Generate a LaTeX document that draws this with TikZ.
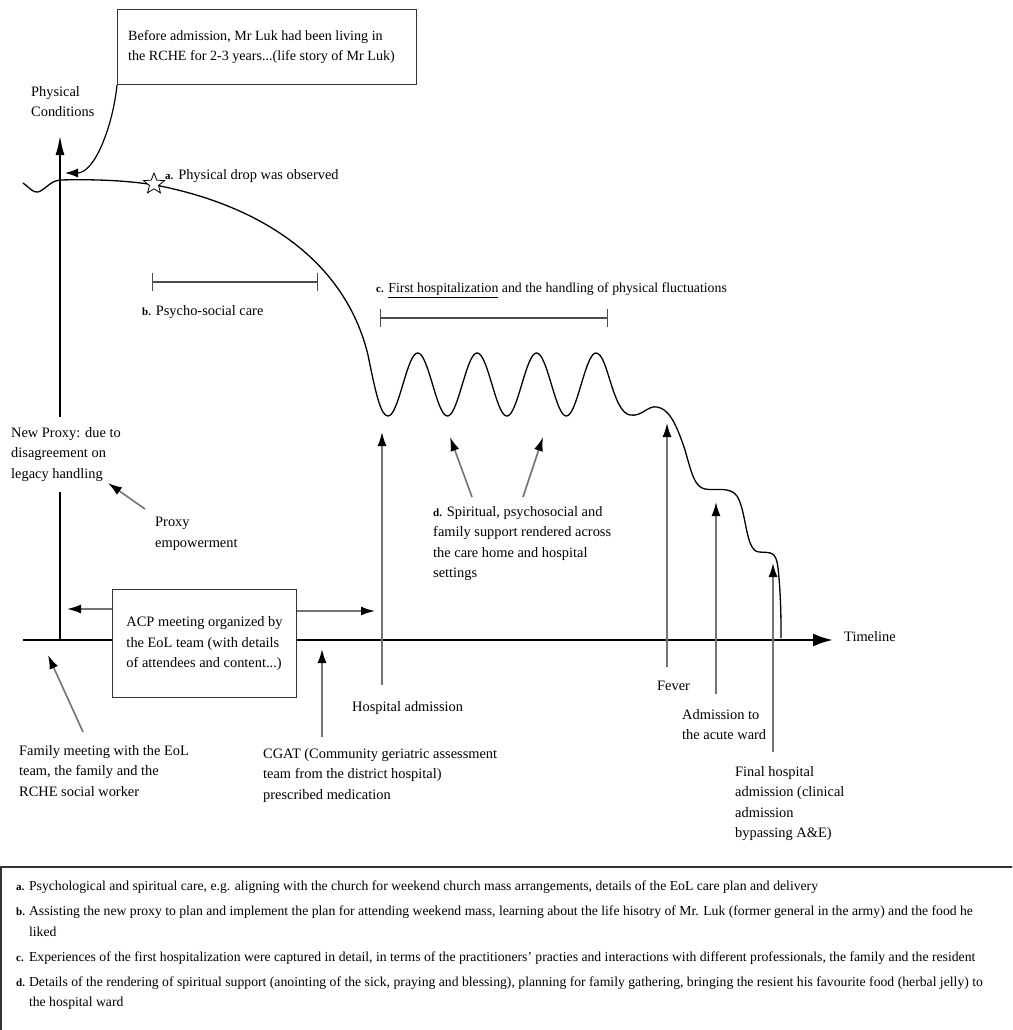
\documentclass[tikz,border=0pt]{standalone}
\usepackage{fontspec}
\setmainfont{Liberation Serif}
\usetikzlibrary{arrows.meta,shapes.geometric,calc}
\newcommand\itemlet[1]{{\fontsize{11}{11}\selectfont\bfseries #1}}
\begin{document}
\begin{tikzpicture}[x=1pt,y=-1pt,
  txt/.style={font=\fontsize{14.4}{20.5}\selectfont, align=left, anchor=north west, inner sep=0pt},
  box/.style={draw=black!80, line width=1.1pt, fill=white, rectangle, align=left, font=\fontsize{14.4}{20.5}\selectfont, anchor=north west, inner sep=0pt},
  axisline/.style={line width=2.4pt, black},
  curveline/.style={line width=1.3pt, black},
  garrow/.style={line width=1.6pt, draw=black!55, -{Latex[length=14pt,width=9pt,color=black]}},
  bracketline/.style={line width=1.4pt, draw=black!70, {Bar[width=18pt]}-{Bar[width=18pt]}},
]
\useasboundingbox (0,0) rectangle (1012,1030);
\fill[white] (0,0) rectangle (1012,1030);

% axes
\coordinate (yb) at (60,640);
\coordinate (ygapL) at (60,492);
\coordinate (ygapU) at (60,417);
\coordinate (yt) at (60,135);
\draw[axisline] (yb) -- (ygapL);
\draw[axisline, -{Latex[length=20pt,width=9pt]}] (ygapU) -- (yt);
\coordinate (tl0) at (23,640);
\coordinate (tl1) at (833,640);
\draw[axisline, -{Latex[length=20pt,width=13pt]}] (tl0) -- (tl1);
\node[txt] (timeline) at (844,631) {Timeline};
\node[txt] (ylabel) at (31,86) {Physical\\Conditions};

% physical condition curve
\draw[curveline] (23,183) .. controls (30,188) and (33,193) .. (38,192)
  .. controls (45,190) and (50,181) .. (60,180)
  .. controls (100,179) and (130,181) .. (155,185)
  .. controls (260,205) and (345,260) .. (368,355)
  .. controls (376,395) and (381,416) .. (388,416)
  -- plot[domain=388:596, samples=140] (\x, {384.5+31.5*cos(6.0576*(\x-388))})
  .. controls (608,353) and (612,412) .. (630,415)
  .. controls (642,417) and (648,405) .. (657,407)
  .. controls (668,409) and (675,420) .. (685,450)
  .. controls (692,475) and (695,487) .. (705,489)
  .. controls (715,491) and (730,486) .. (737,496)
  .. controls (747,512) and (745,551) .. (759,552)
  .. controls (770,553) and (776,550) .. (778,568)
  .. controls (781,595) and (781,620) .. (781,638);
\node[star, star points=5, star point ratio=2.3, draw, fill=white, minimum size=22pt, inner sep=0pt, line width=0.8pt] (star) at (154,184) {};
\node[txt] (la) at (165,169) {\itemlet{a.} Physical drop was observed};

% top box and pointer
\node[box, minimum width=299pt, minimum height=75pt] (topbox) at (117,9) {};
\node[txt, anchor=west, font=\fontsize{14.1}{20.5}\selectfont] (toptext) at ($(topbox.west)+(11,0)$)
  {Before admission, Mr Luk had been living in\\the RCHE for 2-3 years...(life story of Mr Luk)};
\coordinate (ptr) at (65,173);
\draw[line width=1.2pt, -{Latex[length=13pt,width=9pt]}] (topbox.south west) .. controls (113,125) and (95,173) .. (ptr);

% brackets
\coordinate (b1) at (152,282);
\coordinate (b2) at (318,282);
\draw[bracketline] (b1) -- (b2);
\node[txt] (lb) at (142,305) {\itemlet{b.} Psycho-social care};
\coordinate (c1) at (380,318);
\coordinate (c2) at (608,318);
\draw[bracketline] (c1) -- (c2);
\node[txt, font=\fontsize{13.8}{20.5}\selectfont] (lc) at (376,283) {\itemlet{c.} \underline{First hospitalization} and the handling of physical fluctuations};

% left annotations
\node[txt] (newproxy) at (11,427) {New Proxy: due to\\disagreement on\\legacy handling};
\node[txt] (proxyemp) at (155,517) {Proxy\\empowerment};
\coordinate (pe0) at (145,509);
\coordinate (pe1) at (108,483);
\draw[garrow] (pe0) -- (pe1);

% ACP box
\node[box, minimum width=184pt, minimum height=108pt] (acp) at (112,589)
  {ACP meeting organized by\\the EoL team (with details\\of attendees and content...)};
\coordinate (acpL) at (67,609);
\coordinate (acpR) at (375,611);
\draw[garrow] ($(acp.north west)+(0,20)$) -- (acpL);
\draw[garrow] ($(acp.north east)+(0,22)$) -- (acpR);

% bottom annotations
\node[txt] (family) at (19,745) {Family meeting with the EoL\\team, the family and the\\RCHE social worker};
\coordinate (fm0) at (83,732);
\coordinate (fm1) at (48,655);
\draw[garrow] (fm0) -- (fm1);
\node[txt] (cgat) at (263,748) {CGAT (Community geriatric assessment\\team from the district hospital)\\prescribed medication};
\coordinate (cg0) at (322,737);
\coordinate (cg1) at (322,649);
\draw[garrow] (cg0) -- (cg1);
\node[txt] (hosp) at (352,701) {Hospital admission};
\coordinate (ha0) at (382,685);
\coordinate (ha1) at (382,432);
\draw[garrow] (ha0) -- (ha1);

% d label
\node[txt] (ld) at (433,506) {\itemlet{d.} Spiritual, psychosocial and\\family support rendered across\\the care home and hospital\\settings};
\coordinate (d10) at (472,497);
\coordinate (d11) at (450,437);
\draw[garrow] (d10) -- (d11);
\coordinate (d20) at (523,497);
\coordinate (d21) at (543,437);
\draw[garrow] (d20) -- (d21);

% right annotations
\node[txt] (fever) at (657,681) {Fever};
\coordinate (fv0) at (667,667);
\coordinate (fv1) at (667,423);
\draw[garrow] (fv0) -- (fv1);
\node[txt] (acute) at (682,709) {Admission to\\the acute ward};
\coordinate (ac0) at (716,694);
\coordinate (ac1) at (716,502);
\draw[garrow] (ac0) -- (ac1);
\node[txt] (final) at (735,766) {Final hospital\\admission (clinical\\admission\\bypassing A\&E)};
\coordinate (fi0) at (773,752);
\coordinate (fi1) at (773,563);
\draw[garrow] (fi0) -- (fi1);

% notes box
\begin{scope}
\clip (0,0) rectangle (1012,1030);
\coordinate (nbR) at (1030,867);
\coordinate (nbL) at (1,867);
\coordinate (nbB) at (1,1040);
\draw[line width=1.1pt, black!80] (nbR) -- (nbL) -- (nbB);
\node[anchor=north west, inner sep=0pt, align=left, font=\fontsize{13.7}{20.5}\selectfont] (notes) at (16,876)
{\begin{tabular}{@{}l@{\hspace{4pt}}l@{}}
\itemlet{a.} & Psychological and spiritual care, e.g. aligning with the church for weekend church mass arrangements, details of the EoL care plan and delivery\\[4.5pt]
\itemlet{b.} & Assisting the new proxy to plan and implement the plan for attending weekend mass, learning about the life hisotry of Mr. Luk (former general in the army) and the food he\\
 & liked\\[4.5pt]
\itemlet{c.} & Experiences of the first hospitalization were captured in detail, in terms of the practitioners' practies and interactions with different professionals, the family and the resident\\[4.5pt]
\itemlet{d.} & Details of the rendering of spiritual support (anointing of the sick, praying and blessing), planning for family gathering, bringing the resient his favourite food (herbal jelly) to\\
 & the hospital ward
\end{tabular}};
\end{scope}
\end{tikzpicture}
\end{document}
